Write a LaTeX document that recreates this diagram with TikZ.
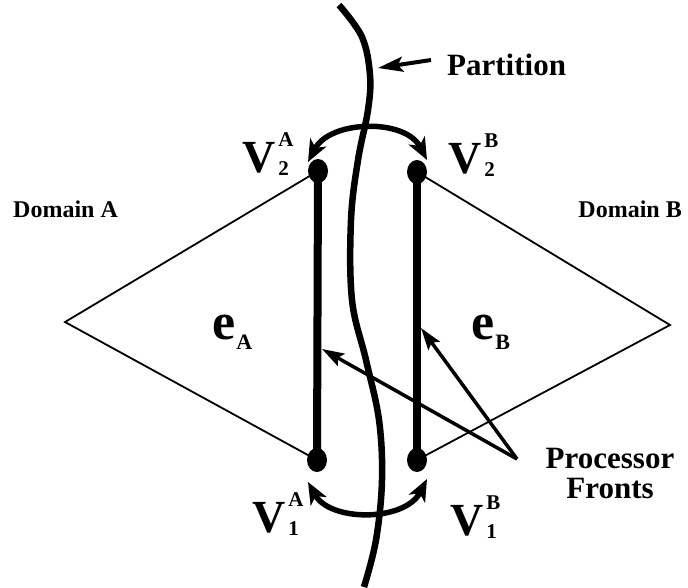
\documentclass[tikz,border=0pt]{standalone}
\usepackage{fontspec}
\setmainfont{Liberation Serif}
\usetikzlibrary{arrows.meta,shapes.geometric}
\newcommand{\vlab}[2]{\fontsize{46}{46}\selectfont V\hspace{3pt}{\fontsize{21}{21}\selectfont\makebox[0pt][l]{\raisebox{26pt}{#1}}\raisebox{-3pt}{#2}}}
\newcommand{\elab}[1]{\fontsize{52}{52}\selectfont e\hspace{1pt}{\fontsize{22}{22}\selectfont\raisebox{-10pt}{#1}}}
\begin{document}
\begin{tikzpicture}[x=1pt,y=-1pt,
  dot/.style={ellipse,fill=black,inner sep=0pt,minimum width=20pt,minimum height=24pt},
  thin edge/.style={line width=1.8pt},
  thick edge/.style={line width=8pt},
  swap arc/.style={line width=5.5pt,{Stealth[length=22pt,width=18pt,inset=6pt]}-{Stealth[length=22pt,width=18pt,inset=6pt]}},
  pointer/.style={line width=3.5pt,-{Stealth[length=22pt,width=14pt,inset=4pt]}},
  lbl/.style={font=\bfseries,inner sep=0pt}]
\useasboundingbox (0,0) rectangle (688,587);
% vertices
\node[dot] (v2a) at (318,171) {};
\node[dot] (v1a) at (317,460) {};
\node[dot] (v2b) at (417,172) {};
\node[dot] (v1b) at (417,460) {};
\coordinate (la) at (65,322);
\coordinate (rb) at (670,325);
% triangles
\draw[thin edge] (v2a.center) -- (la) -- (v1a.center);
\draw[thin edge] (v2b.center) -- (rb) -- (v1b.center);
% front edges
\draw[thick edge] (v2a.center) -- (v1a.center);
\draw[thick edge] (v2b.center) -- (v1b.center);
% partition curve
\draw[line width=6.5pt] plot[smooth,tension=0.6] coordinates {(339,5) (362,37) (370,75) (368,110) (358,160) (351,220) (352,300) (366,360) (379,420) (382,480) (376,540) (364,587)};
% swap arcs
\coordinate (ta) at (308,162);
\coordinate (tb) at (427,160);
\coordinate (ba) at (308,482);
\coordinate (bb) at (427,479);
\draw[swap arc] (ta) .. controls (330,120) and (405,118) .. (tb);
\draw[swap arc] (ba) .. controls (330,522) and (405,522) .. (bb);
% partition label
\node[lbl,anchor=base west,font=\bfseries\fontsize{31}{31}\selectfont] (part) at (447,75) {Partition};
\coordinate (ptail) at (431,60);
\coordinate (ptip) at (378,68);
\draw[line width=4pt,-{Stealth[length=25pt,width=15pt,inset=5pt]}] (ptail) -- (ptip);
% domain labels
\node[lbl,anchor=base west,font=\bfseries\fontsize{24}{24}\selectfont] (doma) at (13,217) {Domain A};
\node[lbl,anchor=base east,font=\bfseries\fontsize{24}{24}\selectfont] (domb) at (682,217) {Domain B};
% vertex labels
\node[lbl,anchor=base west] (l2a) at (242,172) {\vlab{A}{2}};
\node[lbl,anchor=base west] (l2b) at (448,173) {\vlab{B}{2}};
\node[lbl,anchor=base west] (l1a) at (252,532) {\vlab{A}{1}};
\node[lbl,anchor=base west] (l1b) at (450,535) {\vlab{B}{1}};
% edge labels
\node[lbl,anchor=base west] (ea) at (212,339) {\elab{A}};
\node[lbl,anchor=base west] (eb) at (471,339) {\elab{B}};
% processor fronts
\node[lbl,align=center,anchor=base,font=\bfseries\fontsize{31}{30}\selectfont] (pf) at (610,498) {Processor\\Fronts};
\coordinate (ftail) at (517,459);
\coordinate (fa) at (322,349);
\coordinate (fb) at (421,328);
\draw[pointer] (ftail) -- (fa);
\draw[pointer] (ftail) -- (fb);
\end{tikzpicture}
\end{document}
